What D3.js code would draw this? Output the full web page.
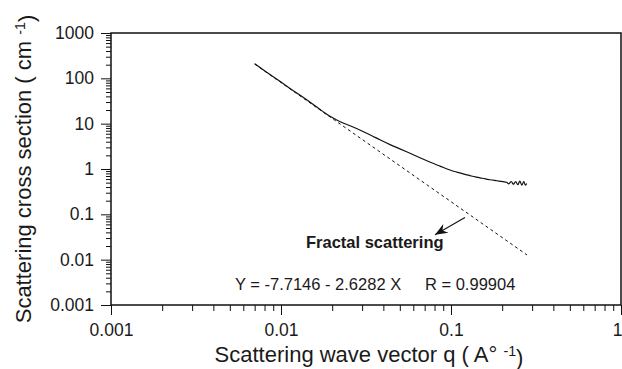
<!DOCTYPE html>
<html><head><meta charset="utf-8">
<script src="https://cdn.jsdelivr.net/npm/d3@7"></script>
<style>
html,body{margin:0;padding:0;background:#fff;}
svg{display:block;}
text{font-family:"Liberation Sans",Arial,Helvetica,sans-serif;fill:#1a1a1a;}
</style></head>
<body>
<svg id="chart" width="622" height="369"></svg>
<script>
// ---- data ----
const qMeasured = [0.0070,0.0082,0.0097,0.0113,0.0129,0.0152,0.0175,0.0194,0.0210,0.0230,0.0255,
  0.0297,0.0340,0.0382,0.0438,0.0490,0.0548,0.0600,0.0657,0.0750,0.0861,
  0.0986,0.108,0.118,0.1294,0.139,0.148,0.159,0.1695,0.186,0.202,
  0.212,0.219,0.226,0.233,0.240,0.247,0.254,0.261,0.268,0.274,0.279];
const iMeasured = [210,138,90,60,43,28,18.9,14.5,12.4,10.5,9.0,
  7.0,5.5,4.4,3.45,2.88,2.4,2.06,1.77,1.43,1.16,
  0.95,0.855,0.78,0.715,0.67,0.64,0.605,0.58,0.55,0.525,
  0.51,0.47,0.53,0.46,0.53,0.45,0.54,0.44,0.53,0.44,0.48];
const qFit = [0.007, 0.28];
const iFit = [206, 0.0127];
const xTickValues = [0.001, 0.01, 0.1, 1];
const xTickLabels = ["0.001", "0.01", "0.1", "1"];
const yTickValues = [0.001, 0.01, 0.1, 1, 10, 100, 1000];
const yTickLabels = ["0.001", "0.01", "0.1", "1", "10", "100", "1000"];
const equationText = "Y = -7.7146 - 2.6282 X";
const rText = "R = 0.99904";
const fractalLabel = "Fractal scattering";

// ---- layout ----
const svg = d3.select("#chart");
const L = 111, R = 621, T = 33, B = 305;
const x = d3.scaleLog().domain([0.001, 1]).range([L, R]);
const y = d3.scaleLog().domain([0.001, 1000]).range([B, T]);

function minors(lo, hi) {
  const out = [];
  for (let e = Math.log10(lo); e < Math.log10(hi); e++)
    for (let k = 2; k <= 9; k++) out.push(k * Math.pow(10, e));
  return out;
}

// minor ticks
svg.append("g").attr("transform", `translate(0,${B})`)
  .call(d3.axisBottom(x).tickValues(minors(0.001, 1)).tickSize(6).tickFormat(""))
  .call(g => g.select(".domain").remove());
svg.append("g").attr("transform", `translate(${L},0)`)
  .call(d3.axisLeft(y).tickValues(minors(0.001, 1000)).tickSize(5).tickFormat(""))
  .call(g => g.select(".domain").remove());

// major ticks
svg.append("g").attr("transform", `translate(0,${B})`)
  .call(d3.axisBottom(x).tickValues(xTickValues).tickSize(10).tickPadding(9)
    .tickFormat((d, i) => xTickLabels[i]))
  .call(g => g.select(".domain").remove())
  .call(g => g.selectAll(".tick text").filter(d => d === 1)
    .attr("text-anchor", "end").attr("x", 1));
svg.append("g").attr("transform", `translate(${L},0)`)
  .call(d3.axisLeft(y).tickValues(yTickValues).tickSize(10).tickPadding(7)
    .tickFormat((d, i) => yTickLabels[i]))
  .call(g => g.select(".domain").remove());
svg.selectAll(".tick line").attr("stroke", "#111").attr("stroke-width", 1);
svg.selectAll(".tick text").attr("font-size", 17.5).attr("fill", "#1a1a1a")
  .attr("font-family", "Liberation Sans, Arial, sans-serif");

// frame
svg.append("rect").attr("x", L).attr("y", T).attr("width", R - L).attr("height", B - T)
  .attr("fill", "none").attr("stroke", "#111").attr("stroke-width", 1.5);

// fit line (dashed)
const fitData = qFit.map((q, i) => [q, iFit[i]]);
svg.append("path").datum(fitData)
  .attr("d", d3.line().x(d => x(d[0])).y(d => y(d[1])))
  .attr("fill", "none").attr("stroke", "#111").attr("stroke-width", 1)
  .attr("stroke-dasharray", "3,3");

// measured curve
const meas = qMeasured.map((q, i) => [q, iMeasured[i]]);
svg.append("path").datum(meas)
  .attr("d", d3.line().curve(d3.curveMonotoneX).x(d => x(d[0])).y(d => y(d[1])))
  .attr("fill", "none").attr("stroke", "#111").attr("stroke-width", 1.2)
  .attr("stroke-linejoin", "round");

// arrow
svg.append("defs").append("marker").attr("id", "ah")
  .attr("markerUnits", "userSpaceOnUse").attr("markerWidth", 16).attr("markerHeight", 16)
  .attr("viewBox", "-12 -6 14 12").attr("refX", 0).attr("refY", 0).attr("orient", "auto")
  .append("path").attr("d", "M0,0 L-11,-4.5 L-7.5,0 L-11,4.5 Z").attr("fill", "#111");
svg.append("line")
  .attr("x1", x(0.1208)).attr("y1", y(0.0855))
  .attr("x2", x(0.0805)).attr("y2", y(0.0356))
  .attr("stroke", "#111").attr("stroke-width", 1.1).attr("marker-end", "url(#ah)");

// annotations
svg.append("text").attr("x", x(0.01403)).attr("y", y(0.01837))
  .attr("font-size", 16.5).attr("font-weight", "bold").text(fractalLabel);
svg.append("text").attr("x", x(0.00536)).attr("y", y(0.00218))
  .attr("font-size", 16.5).text(equationText);
svg.append("text").attr("x", x(0.0703)).attr("y", y(0.00218))
  .attr("font-size", 16.5).text(rText);

// axis titles
const xt = svg.append("text").attr("x", 369).attr("y", 362)
  .attr("text-anchor", "middle").attr("font-size", 22);
xt.append("tspan").text("Scattering wave vector q ( A\u00B0 ");
xt.append("tspan").attr("dy", "-0.42em").attr("font-size", "0.65em").text("-1");
xt.append("tspan").attr("dy", "0.42em").text(")");

const yt = svg.append("text").attr("transform", "translate(31,169) rotate(-90)")
  .attr("text-anchor", "middle").attr("font-size", 22);
yt.append("tspan").text("Scattering cross section ( cm ");
yt.append("tspan").attr("dy", "-0.42em").attr("font-size", "0.65em").text("-1");
yt.append("tspan").attr("dy", "0.42em").text(")");
</script>
</body></html>
